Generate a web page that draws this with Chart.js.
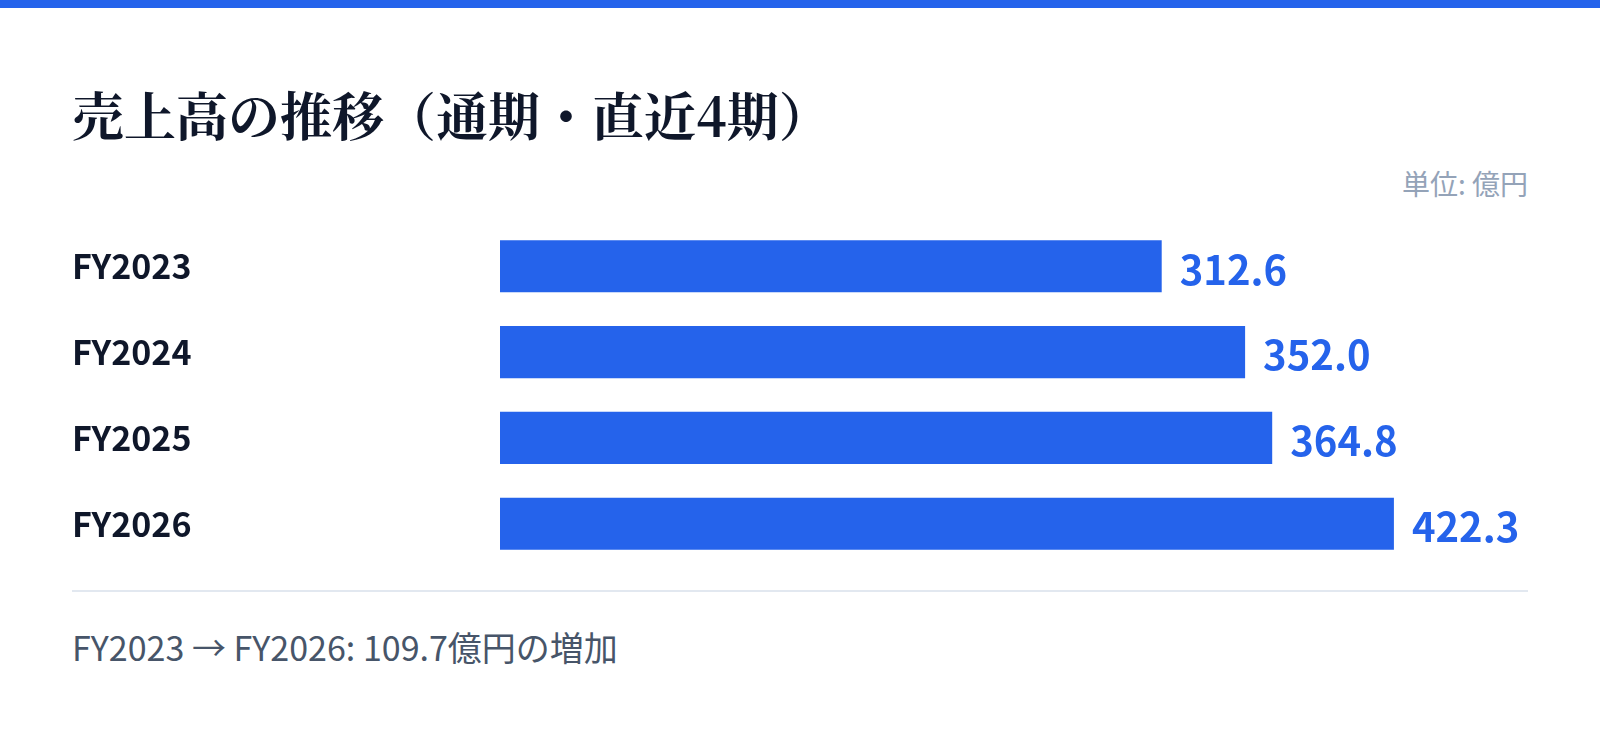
<!DOCTYPE html>
<html lang="ja">
<head>
<meta charset="utf-8">
<title>売上高の推移</title>
<script src="https://cdn.jsdelivr.net/npm/chart.js@4.4.1/dist/chart.umd.min.js"></script>
<style>
  html, body { margin: 0; padding: 0; background: #ffffff; }
  body { width: 1600px; height: 733px; position: relative; overflow: hidden;
         font-family: "Noto Sans CJK JP", "Noto Sans", sans-serif; }
  .topbar { position: absolute; left: 0; top: 0; width: 1600px; height: 8px; background: #2563eb; }
  .title { position: absolute; left: 72px; top: 86px; margin: 0; font-size: 52px; line-height: 56px;
           font-weight: 700; color: #0f172a;
           font-family: "Noto Serif CJK JP", "Noto Sans CJK JP", serif; }
  .unit { position: absolute; right: 72px; top: 166px; font-size: 28px; line-height: 34px; color: #94a3b8; }
  .chart { position: absolute; left: 72px; top: 203px; width: 1456px; height: 384px; }
  .divider { position: absolute; left: 72px; top: 590px; width: 1456px; height: 2px; background: #e2e8f0; }
  .note { position: absolute; left: 72px; top: 627px; font-size: 34px; line-height: 40px; color: #475569; }
</style>
</head>
<body>
<div class="topbar"></div>
<h1 class="title">売上高の推移（通期・直近4期）</h1>
<div class="unit">単位: 億円</div>
<div class="chart"><canvas id="grafica" width="1456" height="384"></canvas></div>
<div class="divider"></div>
<div class="note" id="nota"></div>

<script>
const periodos = ["FY2023", "FY2024", "FY2025", "FY2026"];
const ventas = [312.6, 352.0, 364.8, 422.3];

const azul = "#2563eb";

document.getElementById("nota").textContent =
  periodos[0] + " → " + periodos[periodos.length - 1] + ": " +
  (ventas[ventas.length - 1] - ventas[0]).toFixed(1) + "億円の増加";

// etiquetas de valor al final de cada barra
const etiquetasValor = {
  id: "etiquetasValor",
  afterDatasetsDraw(chart) {
    const ctx = chart.ctx;
    const meta = chart.getDatasetMeta(0);
    ctx.save();
    ctx.font = "700 40px 'Noto Sans CJK JP', 'Noto Sans', sans-serif";
    ctx.fillStyle = azul;
    ctx.textAlign = "left";
    ctx.textBaseline = "middle";
    meta.data.forEach((bar, i) => {
      ctx.fillText(ventas[i].toFixed(1), bar.x + 18, bar.y + 3);
    });
    ctx.restore();
  }
};

const ctx = document.getElementById("grafica").getContext("2d");

new Chart(ctx, {
  type: "bar",
  data: {
    labels: periodos,
    datasets: [{
      data: ventas,
      backgroundColor: azul,
      borderWidth: 0,
      categoryPercentage: 1,
      barPercentage: 0.607
    }]
  },
  options: {
    indexAxis: "y",
    responsive: false,
    animation: false,
    layout: { padding: 0 },
    plugins: {
      legend: { display: false },
      tooltip: { enabled: false }
    },
    scales: {
      x: {
        display: false,
        min: 0,
        max: Math.max(...ventas) * 1.15
      },
      y: {
        border: { display: false },
        grid: { display: false, drawTicks: false },
        afterFit(scale) { scale.width = 428; },
        ticks: {
          crossAlign: "far",
          padding: 0,
          color: "#0f172a",
          font: { family: "'Noto Sans CJK JP', 'Noto Sans', sans-serif", size: 34, weight: "700" }
        }
      }
    }
  },
  plugins: [etiquetasValor]
});
</script>
</body>
</html>
